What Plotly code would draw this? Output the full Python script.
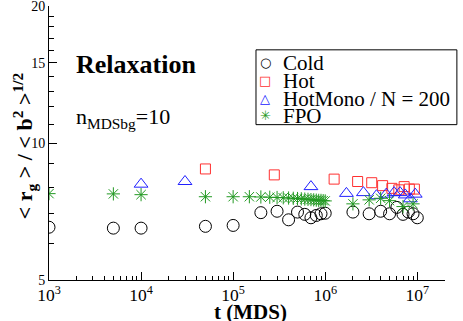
import plotly.graph_objects as go

# Cold (open circles)
cold_t = [1e3, 5e3, 1e4, 5e4, 1e5, 2e5, 3e5, 4e5, 5e5, 6e5, 7e5, 8e5, 9e5, 1e6,
          2e6, 3e6, 4e6, 5e6, 6e6, 7e6, 8e6, 9e6, 1e7]
cold_r = [6.53, 6.50, 6.50, 6.56, 6.59, 7.03, 7.08, 6.78, 7.05, 6.97, 6.85, 6.93, 6.99, 7.01,
          7.05, 6.99, 7.08, 6.99, 7.22, 6.97, 7.05, 6.99, 6.85]

# Hot (open squares)
hot_t = [5e4, 2.8e5, 1.25e6, 2.25e6, 3.2e6, 4.2e6, 5.3e6, 6.3e6, 7.2e6, 8.2e6, 9.3e6]
hot_r = [8.77, 8.51, 8.33, 8.23, 8.18, 8.06, 7.95, 7.89, 8.02, 7.92, 7.92]

# HotMono / N = 200 (open triangles)
mono_t = [1e4, 3e4, 7e5, 1.7e6, 2.6e6, 3.6e6, 4.6e6, 5.6e6, 6.5e6, 7.4e6, 8.4e6, 9.5e6]
mono_r = [8.12, 8.23, 8.02, 7.75, 7.78, 7.66, 7.72, 7.78, 7.78, 7.69, 7.54, 7.72]

# FPO (asterisks)
fpo_t = [1e3, 5e3, 1e4, 5e4, 1e5, 1.5e5, 2e5, 2.5e5, 3e5, 3.5e5, 4e5, 4.5e5, 5e5, 5.5e5,
         6e5, 6.5e5, 7e5, 7.5e5, 8e5, 8.5e5, 9e5, 9.5e5, 1e6,
         2e6, 3e6, 4e6, 5e6, 7e6, 9e6]
fpo_r = [7.74, 7.73, 7.70, 7.62, 7.62, 7.62, 7.61, 7.60, 7.59, 7.58, 7.57, 7.56, 7.55, 7.54,
         7.53, 7.52, 7.51, 7.50, 7.49, 7.48, 7.48, 7.47, 7.46,
         7.35, 7.50, 7.56, 7.47, 7.25, 7.35]

series_names = ['Cold', 'Hot', 'HotMono / N = 200', 'FPO']
series_colors = ['black', '#ff3030', '#2020ff', '#229922']
legend_glyphs = ['○', '□', '△', '✳']

serif = "Liberation Serif, Times New Roman, serif"

fig = go.Figure()
fig.add_trace(go.Scatter(
    x=cold_t, y=cold_r, mode='markers', name=series_names[0],
    marker=dict(symbol='circle-open', size=12, color=series_colors[0], line=dict(width=1)),
))
fig.add_trace(go.Scatter(
    x=hot_t, y=hot_r, mode='markers', name=series_names[1],
    marker=dict(symbol='square-open', size=10, color=series_colors[1], line=dict(width=1)),
))
fig.add_trace(go.Scatter(
    x=mono_t, y=mono_r, mode='markers', name=series_names[2],
    marker=dict(symbol='triangle-up-open', size=12, color=series_colors[2], line=dict(width=1)),
))
fig.add_trace(go.Scatter(
    x=fpo_t, y=fpo_r, mode='markers', name=series_names[3],
    marker=dict(symbol='asterisk-open', size=11, color=series_colors[3],
                line=dict(width=1, color=series_colors[3])),
))

annotations = [
    # axis titles
    dict(text='<b>t (MDS)</b>', xref='paper', yref='paper',
         x=0.51, y=-0.115, xanchor='center', yanchor='middle', showarrow=False,
         font=dict(family=serif, size=21)),
    dict(text='<b>&lt; r<sub>g</sub> &gt; / &lt; b<sup>2</sup> &gt;<sup>1/2</sup></b>',
         xref='paper', yref='paper', textangle=-90,
         x=-0.062, y=0.49, xanchor='center', yanchor='middle', showarrow=False,
         font=dict(family=serif, size=22)),
    # labels in the plot
    dict(text='<b>Relaxation</b>', xref='paper', yref='paper',
         x=0.063, y=0.785, xanchor='left', yanchor='middle', showarrow=False,
         font=dict(family=serif, size=26)),
    dict(text='n<sub>MDSbg</sub>=10', xref='paper', yref='paper',
         x=0.063, y=0.59, xanchor='left', yanchor='middle', showarrow=False,
         font=dict(family=serif, size=22)),
]

# legend drawn as a boxed list (plotly's own legend rows are too tall here)
legend_rows = [0.793, 0.727, 0.662, 0.600]
for name, color, glyph, yy in zip(series_names, series_colors, legend_glyphs, legend_rows):
    annotations.append(dict(
        text=glyph, xref='paper', yref='paper', x=0.5455, y=yy,
        xanchor='center', yanchor='middle', showarrow=False,
        font=dict(family='DejaVu Sans', size=13, color=color)))
    annotations.append(dict(
        text=name, xref='paper', yref='paper', x=0.586, y=yy,
        xanchor='left', yanchor='middle', showarrow=False,
        font=dict(family=serif, size=21, color='black')))

fig.update_layout(
    width=463,
    height=321,
    margin=dict(l=49, r=18, t=6, b=41),
    paper_bgcolor='white',
    plot_bgcolor='white',
    font=dict(family=serif, color='black', size=14),
    showlegend=False,
    xaxis=dict(
        type='log',
        range=[3, 7.301],
        dtick=1,
        exponentformat='power',
        automargin=False,
        ticklabeloverflow='allow',
        showgrid=False,
        zeroline=False,
        showline=True,
        linecolor='black',
        linewidth=1,
        ticks='inside',
        ticklen=8,
        tickcolor='black',
        tickfont=dict(size=14),
        minor=dict(dtick='D1', ticks='inside', ticklen=4, tickcolor='black', showgrid=False),
    ),
    yaxis=dict(
        type='log',
        range=[0.69897, 1.30103],
        tickvals=[5, 10, 15, 20],
        ticktext=['5', '10', '15', '20'],
        automargin=False,
        ticklabeloverflow='allow',
        showgrid=False,
        zeroline=False,
        showline=True,
        linecolor='black',
        linewidth=1,
        ticks='inside',
        ticklen=8,
        tickcolor='black',
        tickfont=dict(size=14),
        minor=dict(tickvals=[6, 7, 8, 9, 11, 12, 13, 14, 16, 17, 18, 19],
                   ticks='inside', ticklen=5, tickcolor='black', showgrid=False),
    ),
    shapes=[
        dict(type='rect', xref='paper', yref='paper',
             x0=0.5227, x1=1.03, y0=0.567, y1=0.84,
             line=dict(color='black', width=1), fillcolor='white', layer='above'),
    ],
    annotations=annotations,
)

# the page body has a default 8px margin; drop it so the chart sits at the corner
fig.write_html("out.html", config={'displayModeBar': False},
               post_script="document.body.style.margin='0';")
